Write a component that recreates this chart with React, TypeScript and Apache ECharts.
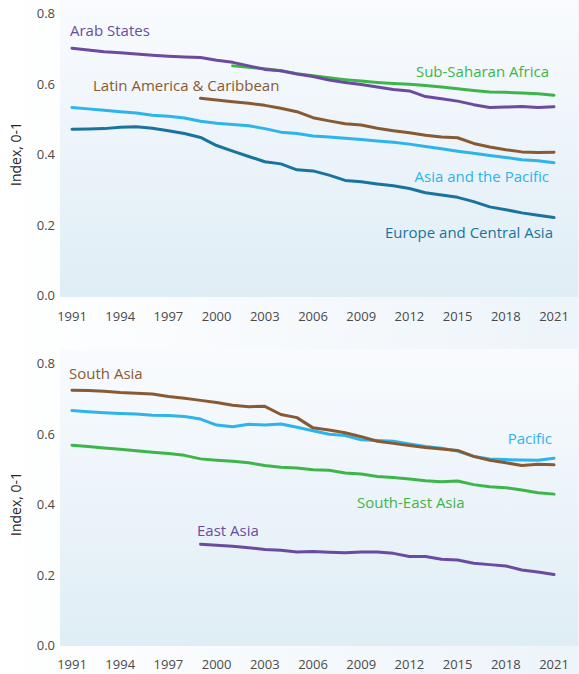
import React, { useEffect, useRef } from "react";
import * as echarts from "echarts";

const years = [
  "1991", "1992", "1993", "1994", "1995", "1996", "1997", "1998", "1999", "2000",
  "2001", "2002", "2003", "2004", "2005", "2006", "2007", "2008", "2009", "2010",
  "2011", "2012", "2013", "2014", "2015", "2016", "2017", "2018", "2019", "2020", "2021",
];

// Top panel
const arabStates = [
  0.700, 0.695, 0.690, 0.687, 0.684, 0.680, 0.677, 0.675, 0.674, 0.666,
  0.660, 0.650, 0.640, 0.636, 0.627, 0.620, 0.610, 0.603, 0.597, 0.590,
  0.583, 0.579, 0.563, 0.557, 0.550, 0.540, 0.532, 0.533, 0.535, 0.532, 0.534,
];
const subSaharanAfricaStart = "2001";
const subSaharanAfrica = [
  0.650, 0.646, 0.642, 0.636, 0.628, 0.622, 0.616, 0.611, 0.607, 0.603,
  0.600, 0.598, 0.594, 0.590, 0.585, 0.580, 0.576, 0.575, 0.573, 0.571, 0.567,
];
const latinAmericaStart = "1999";
const latinAmerica = [
  0.558, 0.553, 0.548, 0.544, 0.538, 0.530, 0.520, 0.503, 0.494, 0.486,
  0.482, 0.473, 0.466, 0.460, 0.453, 0.448, 0.446, 0.430, 0.420, 0.412,
  0.406, 0.404, 0.405,
];
const asiaPacific = [
  0.532, 0.528, 0.524, 0.520, 0.516, 0.510, 0.507, 0.502, 0.493, 0.487,
  0.484, 0.480, 0.472, 0.462, 0.458, 0.451, 0.448, 0.445, 0.441, 0.437,
  0.433, 0.428, 0.421, 0.415, 0.408, 0.402, 0.396, 0.390, 0.384, 0.381, 0.375,
];
const europeCentralAsia = [
  0.470, 0.471, 0.472, 0.476, 0.477, 0.473, 0.466, 0.458, 0.447, 0.424,
  0.408, 0.393, 0.378, 0.372, 0.355, 0.352, 0.340, 0.325, 0.321, 0.315,
  0.310, 0.302, 0.290, 0.284, 0.277, 0.265, 0.250, 0.242, 0.233, 0.226, 0.220,
];

// Bottom panel
const southAsia = [
  0.723, 0.722, 0.720, 0.716, 0.714, 0.712, 0.705, 0.700, 0.694, 0.688,
  0.680, 0.676, 0.677, 0.654, 0.645, 0.616, 0.610, 0.602, 0.591, 0.578,
  0.572, 0.566, 0.560, 0.556, 0.552, 0.535, 0.524, 0.517, 0.509, 0.513, 0.511,
];
const pacific = [
  0.665, 0.662, 0.659, 0.657, 0.655, 0.652, 0.651, 0.648, 0.641, 0.624,
  0.619, 0.626, 0.624, 0.627, 0.618, 0.608, 0.598, 0.594, 0.582, 0.580,
  0.578, 0.570, 0.563, 0.558, 0.550, 0.535, 0.528, 0.526, 0.525, 0.524, 0.530,
];
const southEastAsia = [
  0.567, 0.563, 0.559, 0.555, 0.551, 0.547, 0.543, 0.538, 0.528, 0.524,
  0.521, 0.517, 0.509, 0.504, 0.502, 0.497, 0.496, 0.488, 0.485, 0.478,
  0.475, 0.471, 0.466, 0.463, 0.465, 0.455, 0.449, 0.446, 0.440, 0.432, 0.428,
];
const eastAsiaStart = "1999";
const eastAsia = [
  0.286, 0.283, 0.280, 0.276, 0.271, 0.269, 0.264, 0.265, 0.263, 0.262,
  0.264, 0.264, 0.260, 0.251, 0.251, 0.243, 0.241, 0.232, 0.228, 0.224,
  0.213, 0.207, 0.200,
];

const yMin = 0;
const yMax = 0.8;
const yStep = 0.2;

const PURPLE = "#6b4b9f";
const GREEN = "#3db54a";
const BROWN = "#875a33";
const LIGHTBLUE = "#2db4ea";
const TEAL = "#1a739f";

const FONT = "Open Sans";

function pad(start: string, vals: number[]) {
  const s = years.indexOf(start);
  return years.map((_, i) => (i >= s ? vals[i - s] : null));
}

export default function App() {
  const ref = useRef<HTMLDivElement>(null);

  useEffect(() => {
    if (!ref.current) return;
    const chart = echarts.init(ref.current, null, { renderer: "svg" });

    const grids = [
      { left: 70, right: 25, top: 13, height: 282 },
      { left: 70, right: 25, top: 363, height: 282 },
    ];

    const xAxis = [0, 1].map((gi) => ({
      type: "category",
      gridIndex: gi,
      data: years,
      boundaryGap: false,
      axisLine: { show: false },
      axisTick: { show: false },
      axisLabel: {
        interval: 2,
        margin: gi === 0 ? 14 : 12,
        color: "#4a4a4a",
        fontSize: 13,
        fontFamily: FONT,
      },
      splitLine: { show: false },
    }));

    const yAxis = [0, 1].map((gi) => ({
      type: "value",
      gridIndex: gi,
      min: yMin,
      max: yMax,
      interval: yStep,
      name: "Index, 0-1",
      nameLocation: "middle",
      nameGap: 50,
      nameTextStyle: { color: "#222", fontSize: 14, fontFamily: FONT },
      axisLine: { show: false },
      axisTick: { show: false },
      splitLine: { show: false },
      axisLabel: {
        margin: 17,
        color: "#4a4a4a",
        fontSize: 13,
        fontFamily: FONT,
        formatter: (v: number) => v.toFixed(1),
      },
    }));

    const line = (name: string, data: (number | null)[], color: string, gi: number) => ({
      type: "line",
      name,
      xAxisIndex: gi,
      yAxisIndex: gi,
      data,
      showSymbol: false,
      symbol: "none",
      connectNulls: false,
      lineStyle: { color, width: 3, cap: "round", join: "round" },
      itemStyle: { color },
      emphasis: { disabled: true },
    });

    const series = [
      line("Sub-Saharan Africa", pad(subSaharanAfricaStart, subSaharanAfrica), GREEN, 0),
      line("Arab States", arabStates, PURPLE, 0),
      line("Latin America & Caribbean", pad(latinAmericaStart, latinAmerica), BROWN, 0),
      line("Asia and the Pacific", asiaPacific, LIGHTBLUE, 0),
      line("Europe and Central Asia", europeCentralAsia, TEAL, 0),
      line("South-East Asia", southEastAsia, GREEN, 1),
      line("East Asia", pad(eastAsiaStart, eastAsia), PURPLE, 1),
      line("Pacific", pacific, LIGHTBLUE, 1),
      line("South Asia", southAsia, BROWN, 1),
    ];

    const bgFill = {
      type: "linear",
      x: 0,
      y: 0,
      x2: 0,
      y2: 1,
      colorStops: [
        { offset: 0, color: "#f9fbfe" },
        { offset: 1, color: "#dfedf5" },
      ],
    };

    const label = (text: string, x: number, y: number, color: string, align = "left") => ({
      type: "text",
      x,
      y,
      z: 10,
      style: {
        text,
        fill: color,
        fontSize: 15,
        fontFamily: FONT,
        textAlign: align,
        textVerticalAlign: "middle",
      },
    });

    chart.setOption({
      animation: false,
      grid: grids,
      xAxis,
      yAxis,
      series,
      graphic: [
        { type: "rect", z: -10, shape: { x: 60, y: 0, width: 518, height: 297 }, style: { fill: bgFill } },
        { type: "rect", z: -10, shape: { x: 60, y: 349, width: 518, height: 297 }, style: { fill: bgFill } },
        label("Arab States", 70, 30, PURPLE),
        label("Latin America & Caribbean", 93, 85, BROWN),
        label("Sub-Saharan Africa", 549, 71, GREEN, "right"),
        label("Asia and the Pacific", 549, 176, LIGHTBLUE, "right"),
        label("Europe and Central Asia", 553, 232, TEAL, "right"),
        label("South Asia", 69, 373, BROWN),
        label("East Asia", 197, 530, PURPLE),
        label("Pacific", 552, 438, LIGHTBLUE, "right"),
        label("South-East Asia", 357, 502, GREEN),
      ],
    });

    return () => chart.dispose();
  }, []);

  return (
    <div
      ref={ref}
      style={{
        position: "absolute",
        left: 0,
        top: 0,
        width: 579,
        height: 674,
        background: "linear-gradient(to right, #ffffff, #edf4fa)",
      }}
    />
  );
}
